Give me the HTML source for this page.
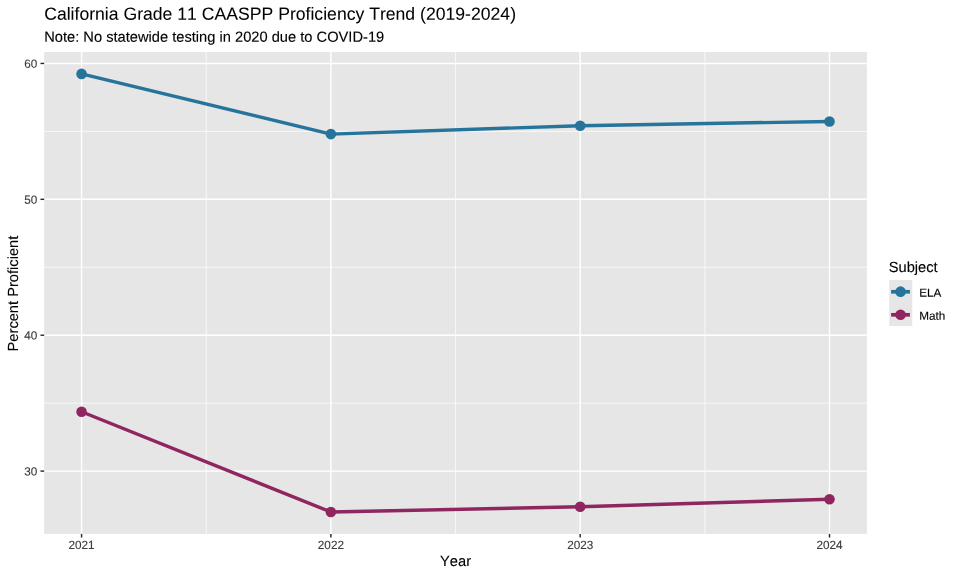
<!DOCTYPE html>
<html lang="en">
<head>
<meta charset="utf-8">
<title>California Grade 11 CAASPP Proficiency Trend (2019-2024)</title>
<style>
html,body{margin:0;padding:0;background:#fff;}
body{width:960px;height:576px;overflow:hidden;}
svg{display:block;}
text{font-family:"Liberation Sans",sans-serif;text-rendering:geometricPrecision;font-kerning:none;}
.title{font-size:17.6px;fill:#000000;stroke:#000000;stroke-width:0.06px;}
.sub{font-size:14.67px;fill:#000000;stroke:#000000;stroke-width:0.12px;}
.axt{font-size:14.67px;fill:#000000;stroke:#000000;stroke-width:0.12px;}
.tick{font-size:11.73px;fill:#3C3C3C;stroke:#3C3C3C;stroke-width:0.12px;}
.leg{font-size:11.73px;fill:#000000;stroke:#000000;stroke-width:0.12px;}
</style>
</head>
<body>

<svg width="960" height="576" viewBox="0 0 960 576">
<g>
<rect x="0" y="0" width="960" height="576" fill="#ffffff"/>
<rect x="44.17" y="52.00" width="822.73" height="481.90" fill="#E6E6E6"/>
<g stroke="#ffffff" stroke-width="0.71" fill="none">
<line x1="44.17" x2="866.90" y1="403.15" y2="403.15"/>
<line x1="44.17" x2="866.90" y1="267.27" y2="267.27"/>
<line x1="44.17" x2="866.90" y1="131.38" y2="131.38"/>
<line x1="206.22" x2="206.22" y1="52.00" y2="533.90"/>
<line x1="455.54" x2="455.54" y1="52.00" y2="533.90"/>
<line x1="704.85" x2="704.85" y1="52.00" y2="533.90"/>
</g>
<g stroke="#ffffff" stroke-width="1.42" fill="none">
<line x1="44.17" x2="866.90" y1="471.09" y2="471.09"/>
<line x1="44.17" x2="866.90" y1="335.21" y2="335.21"/>
<line x1="44.17" x2="866.90" y1="199.33" y2="199.33"/>
<line x1="44.17" x2="866.90" y1="63.44" y2="63.44"/>
<line x1="81.57" x2="81.57" y1="52.00" y2="533.90"/>
<line x1="330.88" x2="330.88" y1="52.00" y2="533.90"/>
<line x1="580.19" x2="580.19" y1="52.00" y2="533.90"/>
<line x1="829.50" x2="829.50" y1="52.00" y2="533.90"/>
</g>
<polyline points="81.57,73.90 330.88,134.10 580.19,125.68 829.50,121.46" fill="none" stroke="#26739B" stroke-width="3.41" stroke-linejoin="round" stroke-linecap="butt"/>
<polyline points="81.57,411.71 330.88,512.00 580.19,506.70 829.50,499.22" fill="none" stroke="#8F265F" stroke-width="3.41" stroke-linejoin="round" stroke-linecap="butt"/>
<circle cx="81.57" cy="73.90" r="5.3" fill="#26739B"/>
<circle cx="330.88" cy="134.10" r="5.3" fill="#26739B"/>
<circle cx="580.19" cy="125.68" r="5.3" fill="#26739B"/>
<circle cx="829.50" cy="121.46" r="5.3" fill="#26739B"/>
<circle cx="81.57" cy="411.71" r="5.3" fill="#8F265F"/>
<circle cx="330.88" cy="512.00" r="5.3" fill="#8F265F"/>
<circle cx="580.19" cy="506.70" r="5.3" fill="#8F265F"/>
<circle cx="829.50" cy="499.22" r="5.3" fill="#8F265F"/>
<g stroke="#262626" stroke-width="1.42" fill="none">
<line x1="40.50" x2="44.17" y1="471.09" y2="471.09"/>
<line x1="40.50" x2="44.17" y1="335.21" y2="335.21"/>
<line x1="40.50" x2="44.17" y1="199.33" y2="199.33"/>
<line x1="40.50" x2="44.17" y1="63.44" y2="63.44"/>
<line x1="81.57" x2="81.57" y1="533.90" y2="537.57"/>
<line x1="330.88" x2="330.88" y1="533.90" y2="537.57"/>
<line x1="580.19" x2="580.19" y1="533.90" y2="537.57"/>
<line x1="829.50" x2="829.50" y1="533.90" y2="537.57"/>
</g>
<text rotate="0.05" class="tick" text-anchor="end" transform="translate(37.40 475.49) scale(1 1.01)">30</text>
<text rotate="0.05" class="tick" text-anchor="end" transform="translate(37.40 339.61) scale(1 1.01)">40</text>
<text rotate="0.05" class="tick" text-anchor="end" transform="translate(37.40 203.73) scale(1 1.01)">50</text>
<text rotate="0.05" class="tick" text-anchor="end" transform="translate(37.40 67.84) scale(1 1.01)">60</text>
<text rotate="0.05" class="tick" text-anchor="middle" transform="translate(81.57 549.00) scale(1 1.01)">2021</text>
<text rotate="0.05" class="tick" text-anchor="middle" transform="translate(330.88 549.00) scale(1 1.01)">2022</text>
<text rotate="0.05" class="tick" text-anchor="middle" transform="translate(580.19 549.00) scale(1 1.01)">2023</text>
<text rotate="0.05" class="tick" text-anchor="middle" transform="translate(829.50 549.00) scale(1 1.01)">2024</text>
<text rotate="0.05" class="title" x="44.17" y="19.75">California Grade 11 CAASPP Proficiency Trend (2019-2024)</text>
<text rotate="0.05" class="sub" x="44.17" y="41.80">Note: No statewide testing in 2020 due to COVID-19</text>
<text rotate="0.05" class="axt" text-anchor="middle" x="455.53" y="566.00">Year</text>
<text rotate="0.05" class="axt" text-anchor="middle" transform="translate(18.00,293.55) rotate(-90)">Percent Proficient</text>
<text rotate="0.05" class="axt" x="888.75" y="271.90">Subject</text>
<rect x="889.20" y="280.00" width="23.04" height="23.04" fill="#E6E6E6"/>
<line x1="891.10" x2="909.94" y1="291.77" y2="291.77" stroke="#26739B" stroke-width="3.7"/>
<circle cx="900.57" cy="291.67" r="5.3" fill="#26739B"/>
<text rotate="0.05" class="leg" x="919.20" y="296.72">ELA</text>
<rect x="889.20" y="303.04" width="23.04" height="23.04" fill="#E6E6E6"/>
<line x1="891.10" x2="909.94" y1="314.81" y2="314.81" stroke="#8F265F" stroke-width="3.7"/>
<circle cx="900.57" cy="314.71" r="5.3" fill="#8F265F"/>
<text rotate="0.05" class="leg" x="919.20" y="319.76">Math</text>
</g>
</svg>
</body>
</html>
